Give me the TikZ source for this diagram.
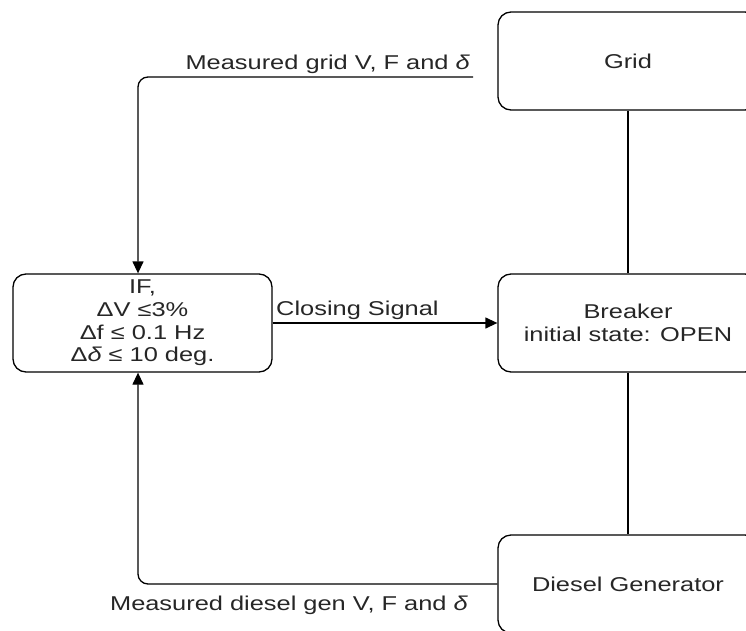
\documentclass[tikz,border=0pt]{standalone}
\usepackage{fontspec}
\setmainfont{Liberation Sans}[FakeStretch=1.27]
\usetikzlibrary{arrows.meta}
\begin{document}
\begin{tikzpicture}[x=1pt,y=-1pt,
  every node/.style={font=\fontsize{20}{22.7}\selectfont, text=black!85},
  box/.style={draw, line width=1.3pt, rounded corners=13pt, minimum width=260pt, minimum height=98pt, align=center, inner sep=0pt},
  conn/.style={draw, line width=1.3pt},
  arr/.style={conn, -{Triangle[length=12pt,width=11pt]}},
  lbl/.style={inner sep=0pt}]
\useasboundingbox (0,0) rectangle (746,631);
\clip (0,0) rectangle (746,631);
\node[box] (grid) at (628,61) {Grid};
\node[box] (breaker) at (628,323) {Breaker\\initial state: OPEN};
\node[box] (diesel) at (628,584) {Diesel Generator};
\node[box, minimum width=259pt] (cond) at (142.5,323) {IF,\\ΔV ≤3\%\\Δf ≤ 0.1 Hz\\Δ{\itshape δ} ≤ 10 deg.};
\coordinate (gridsig) at (473,77);
\coordinate (topin) at ([xshift=-4.5pt]cond.north);
\coordinate (botin) at ([xshift=-4.5pt]cond.south);
\draw[conn] (grid) -- (breaker);
\draw[conn] (breaker) -- (diesel);
\draw[arr] (cond.east) -- (breaker.west);
\draw[arr, rounded corners=10pt] (gridsig) -| (topin);
\draw[arr, rounded corners=10pt] (diesel.west) -| (botin);
\node[lbl, anchor=base east] (toplbl) at (470,70) {Measured grid V, F and {\itshape δ}};
\node[lbl, anchor=base east] (botlbl) at (468,610) {Measured diesel gen V, F and {\itshape δ}};
\node[lbl, anchor=base west] (closelbl) at (276,315) {Closing Signal};
\end{tikzpicture}
\end{document}
